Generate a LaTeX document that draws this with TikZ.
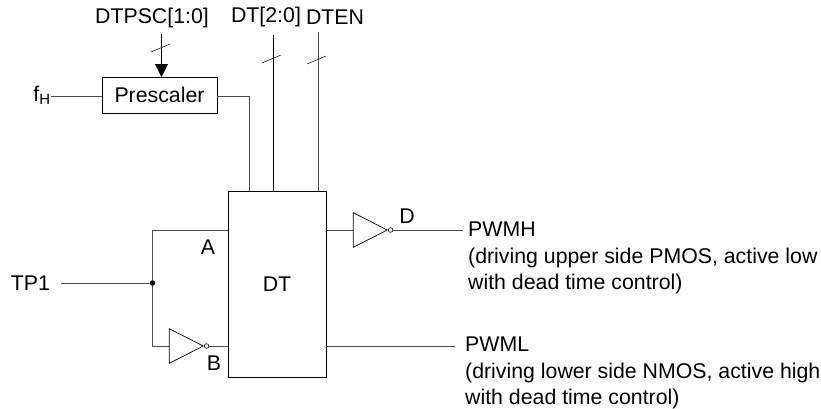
\documentclass[tikz,border=0pt]{standalone}
\usepackage{fontspec}
\setmainfont{Liberation Sans}
\usetikzlibrary{shapes.geometric,arrows.meta}
\begin{document}
\begin{tikzpicture}[x=1pt, y=-1pt, font=\fontsize{21.3}{26}\selectfont]
    \tikzset{
        wire/.style={draw=black!70!white, line width=0.9pt},
        blockbox/.style={draw, line width=0.9pt, inner sep=0pt},
        invtri/.style={isosceles triangle, isosceles triangle apex angle=54, draw, line width=0.7pt, inner sep=0pt, minimum height=34pt, anchor=apex},
        bubble/.style={circle, draw, fill=white, line width=0.6pt, inner sep=0pt, minimum size=4.6pt},
        solid node/.style={circle, fill=black, inner sep=0pt, minimum size=5.5pt},
        buslabel/.style={inner sep=0pt},
        outlabel/.style={anchor=north west, align=left, inner sep=0pt}
    }
    \useasboundingbox (0, 0) rectangle (821, 408);

    % Blocks
    \node[blockbox, minimum width=115pt, minimum height=36pt] (presc) at (159.5, 95) {Prescaler};
    \node[blockbox, minimum width=98pt, minimum height=186pt] (dt) at (277, 284) {DT};

    % Inverters
    \node[invtri] (inva) at (204, 346) {};
    \node[bubble, right=0pt] (bubblea) at (inva.apex) {};
    \node[invtri] (invd) at (388, 230) {};
    \node[bubble, right=0pt] (bubbled) at (invd.apex) {};

    % Signal names
    \node[buslabel] (fh) at (42, 95) {f\textsubscript{H}};
    \node[buslabel] (tp1) at (30.5, 283) {TP1};
    \node[buslabel] (dtpsc) at (152, 18) {DTPSC[1:0]};
    \node[buslabel] (dtbits) at (266, 17) {DT[2:0]};
    \node[buslabel] (dten) at (335, 17) {DTEN};
    \node[buslabel] (la) at (208, 247) {A};
    \node[buslabel] (lb) at (214, 363) {B};
    \node[buslabel] (ld) at (407, 216) {D};
    \node[outlabel] (pwmh) at (468, 222) {PWMH\\[1pt](driving upper side PMOS, active low\\with dead time control)};
    \node[outlabel] (pwml) at (465, 337) {PWML\\[1pt](driving lower side NMOS, active high\\with dead time control)};

    % Wire ends and corners
    \coordinate (fhend) at (51, 96);
    \coordinate (tp1end) at (61, 283);
    \coordinate (dot) at (152.5, 283);
    \coordinate (pwmhend) at (463, 230);
    \coordinate (pwmlend) at (455, 346);
    \coordinate (psctop) at (161.5, 34);
    \coordinate (bitstop) at (273.5, 35);
    \coordinate (dtentop) at (318.5, 32);

    % Inputs of the prescaler and of DT
    \draw[wire] (fhend) -- (presc.west |- fhend);
    \draw[wire] (presc.east |- fhend) -- (249, 96) -- (249, 191);
    \draw[-{Triangle[length=13pt, width=13pt]}, line width=0.8pt] (psctop) -- (161.5, 77);
    \draw[line width=0.8pt] (bitstop) -- (273.5, 191);
    \draw[wire] (dtentop) -- (318.5, 191);

    % Bus ticks
    \draw[line width=0.5pt] (151, 52) -- (170, 44);
    \draw[line width=0.5pt] (262, 63) -- (281, 55);
    \draw[line width=0.5pt] (307, 64) -- (326, 56);

    % Paths into DT
    \draw[wire] (tp1end) -- (dot);
    \draw[wire] (dt.west |- 0, 230) -- (152.5, 230) -- (152.5, 346) -- (inva.lower side);
    \draw[wire] (bubblea) -- (dt.west |- bubblea);
    \node[solid node] (junction) at (dot) {};

    % Paths out of DT
    \draw[wire] (dt.east |- invd) -- (invd.lower side);
    \draw[wire] (bubbled) -- (pwmhend);
    \draw[wire] (dt.east |- pwmlend) -- (pwmlend);
\end{tikzpicture}
\end{document}
